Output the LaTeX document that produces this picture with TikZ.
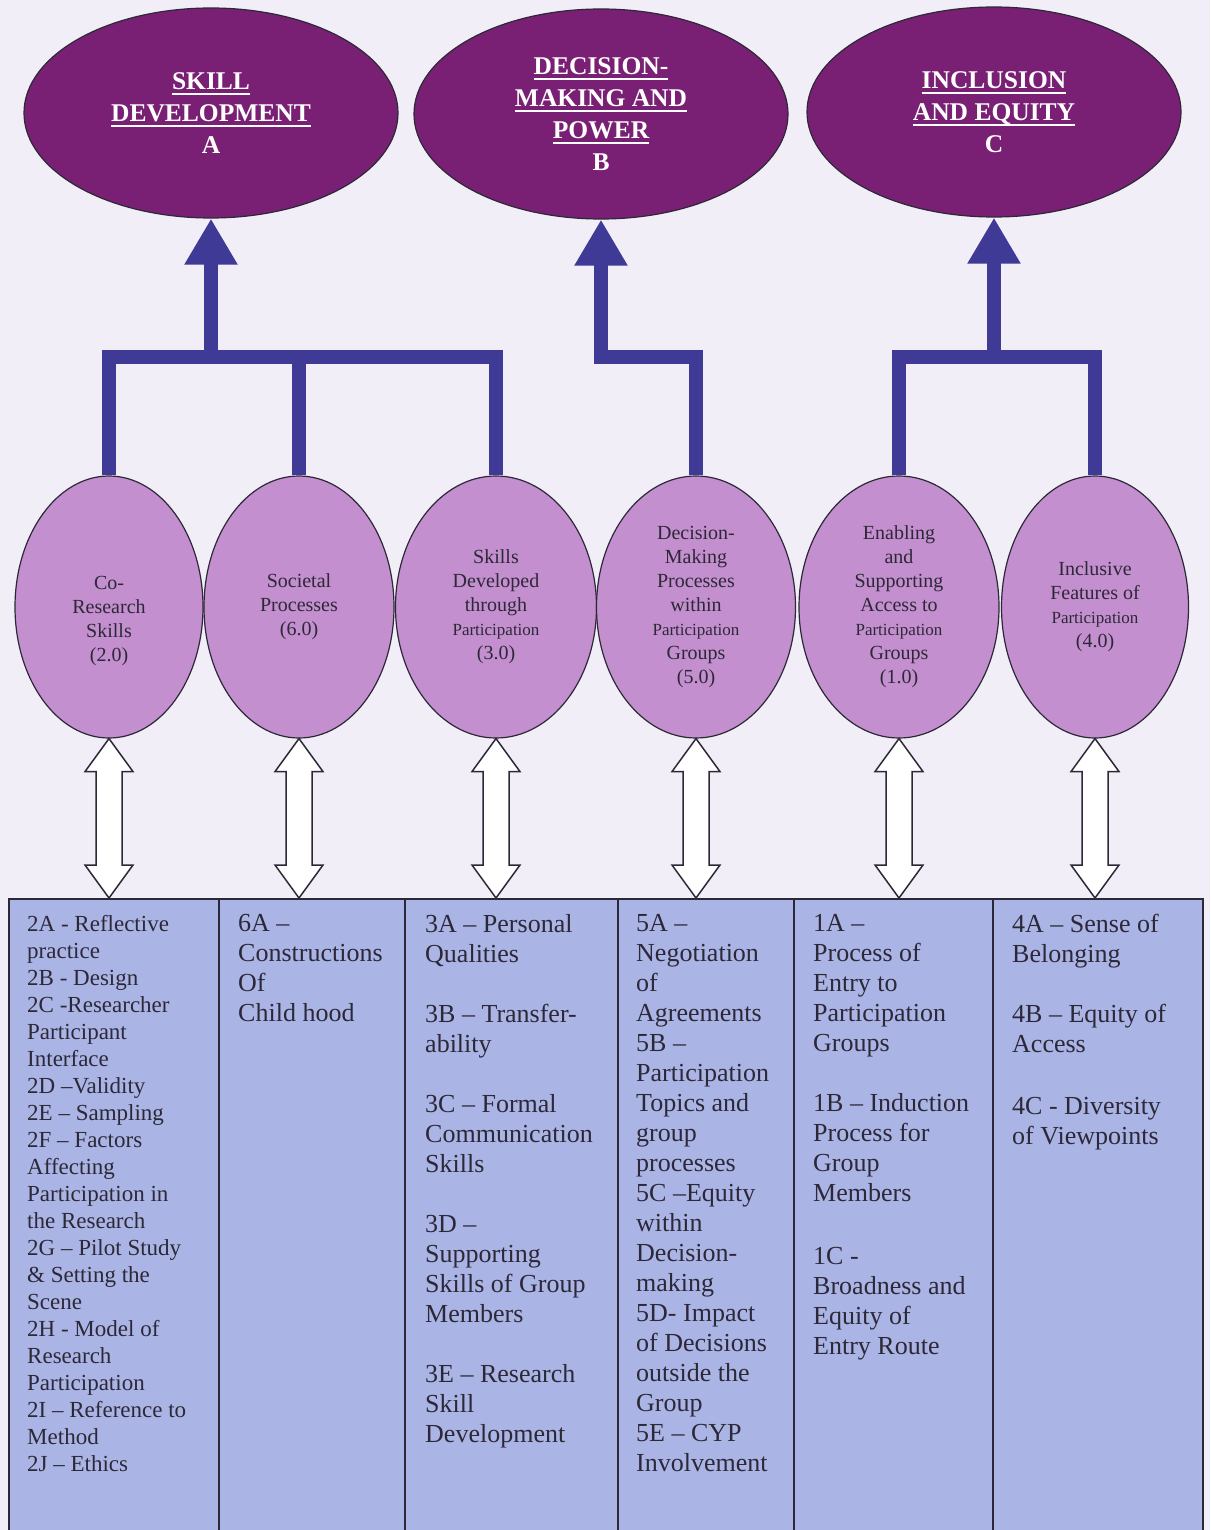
\documentclass[tikz,border=0pt]{standalone}
\usepackage{fontspec}
\setmainfont{Liberation Serif}
\usetikzlibrary{arrows.meta,shapes.geometric}
\definecolor{bgc}{RGB}{242,238,248}
\definecolor{topc}{RGB}{122,32,116}
\definecolor{midc}{RGB}{195,143,206}
\definecolor{barc}{RGB}{62,58,150}
\definecolor{cellc}{RGB}{170,181,230}
\definecolor{inkc}{RGB}{45,40,55}
\newcommand\ulx[1]{\leavevmode\setbox0\hbox{#1}\rlap{\rule[-5.5pt]{\wd0}{2pt}}\box0}
\newcommand\smallp{{\fontsize{17}{24}\selectfont Participation}}
\newcommand\dblarrow[2]{%
  \coordinate (tt) at (#1.south);
  \coordinate (bb) at (#2.north -| #1.south);
  \draw[dbl] (tt) -- ([shift={(24,33)}]tt) -- ([shift={(13,33)}]tt)
    -- ([shift={(13,-33)}]bb) -- ([shift={(24,-33)}]bb) -- (bb)
    -- ([shift={(-24,-33)}]bb) -- ([shift={(-13,-33)}]bb)
    -- ([shift={(-13,33)}]tt) -- ([shift={(-24,33)}]tt) -- cycle;}
\begin{document}
\begin{tikzpicture}[x=1pt,y=-1pt,
  topell/.style={ellipse, draw=inkc, line width=1.2pt, fill=topc, minimum width=374, minimum height=210, inner sep=0pt, text=white, align=center, font=\bfseries\fontsize{25.5}{32}\selectfont},
  midell/.style={ellipse, draw=inkc, line width=1.2pt, fill=midc, minimum height=262, inner sep=0pt, text=inkc, align=center, font=\fontsize{20}{24}\selectfont},
  bar/.style={draw=barc, line width=14pt, line join=miter},
  bigtip/.style={-{Triangle[width=50pt,length=46pt]}},
  dbl/.style={draw=inkc, fill=white, line width=1.5pt, line join=miter},
  cell/.style={rectangle, draw=inkc, line width=1.8pt, fill=cellc, minimum width=#1, minimum height=660, inner sep=0pt, anchor=north west},
  ct/.style={anchor=north west, align=left, inner sep=0pt, text=inkc, font=\fontsize{26}{30}\selectfont},
]
\useasboundingbox (0,0) rectangle (1210,1530);
\fill[bgc] (0,0) rectangle (1210,1530);

% top ellipses
\node[topell] (A) at (211,113) {\ulx{SKILL}\\\ulx{DEVELOPMENT}\\A};
\node[topell] (B) at (601,114) {\ulx{DECISION-}\\\ulx{MAKING AND}\\\ulx{POWER}\\B};
\node[topell] (C) at (994,112) {\ulx{INCLUSION}\\\ulx{AND EQUITY}\\C};

% middle ellipses
\node[midell, minimum width=188] (e1) at (109,607) {\strut\\Co-\\Research\\Skills\\(2.0)};
\node[midell, minimum width=190] (e2) at (299,607) {Societal\\Processes\\(6.0)};
\node[midell, minimum width=201] (e3) at (496,607) {Skills\\Developed\\through\\\smallp\\(3.0)};
\node[midell, minimum width=199] (e4) at (696,607) {Decision-\\Making\\Processes\\within\\\smallp\\Groups\\(5.0)};
\node[midell, minimum width=200] (e5) at (899,607) {Enabling\\and\\Supporting\\Access to\\\smallp\\Groups\\(1.0)};
\node[midell, minimum width=187] (e6) at (1095,607) {Inclusive\\Features of\\\smallp\\(4.0)};

% junctions
\coordinate (jA) at (211,357);
\coordinate (jB) at (601,357);
\coordinate (jC) at (994,357);

% bars and big arrows
\draw[bar,bigtip] (e1.north) |- (jA) -- (A.south);
\draw[bar] (e3.north) |- (jA);
\draw[bar] (e2.north) -- (e2.north |- jA);
\draw[bar,bigtip] (e4.north) |- (jB) -- (B.south);
\draw[bar,bigtip] (e5.north) |- (jC) -- (C.south);
\draw[bar] (e6.north) |- (jC);

% table cells
\node[cell=210] (c1) at (8,898) {};
\node[cell=186] (c2) at (218,898) {};
\node[cell=213] (c3) at (404,898) {};
\node[cell=176] (c4) at (617,898) {};
\node[cell=199] (c5) at (793,898) {};
\node[cell=210] (c6) at (992,898) {};

% double arrows
\dblarrow{e1}{c1}
\dblarrow{e2}{c2}
\dblarrow{e3}{c3}
\dblarrow{e4}{c4}
\dblarrow{e5}{c5}
\dblarrow{e6}{c6}

% cell texts
\node[ct, font=\fontsize{23}{27}\selectfont] (t1) at ([shift={(19,17)}]c1.north west)
 {2A - Reflective\\practice\\2B - Design\\2C -Researcher\\Participant\\Interface\\2D –Validity\\2E – Sampling\\2F – Factors\\Affecting\\Participation in\\the Research\\2G – Pilot Study\\\& Setting the\\Scene\\2H - Model of\\Research\\Participation\\2I – Reference to\\Method\\2J – Ethics};
\node[ct] (t2) at ([shift={(20,16)}]c2.north west)
 {6A –\\Constructions\\Of\\Child hood};
\node[ct] (t3) at ([shift={(21,16)}]c3.north west)
 {3A – Personal\\Qualities\\[30pt]3B – Transfer-\\ability\\[30pt]3C – Formal\\Communication\\Skills\\[30pt]3D –\\Supporting\\Skills of Group\\Members\\[30pt]3E – Research\\Skill\\Development};
\node[ct] (t4) at ([shift={(19,16)}]c4.north west)
 {5A –\\Negotiation\\of\\Agreements\\5B –\\Participation\\Topics and\\group\\processes\\5C –Equity\\within\\Decision-\\making\\5D- Impact\\of Decisions\\outside the\\Group\\5E – CYP\\Involvement};
\node[ct] (t5) at ([shift={(20,16)}]c5.north west)
 {1A –\\Process of\\Entry to\\Participation\\Groups\\[30pt]1B – Induction\\Process for\\Group\\Members\\[33pt]1C -\\Broadness and\\Equity of\\Entry Route};
\node[ct] (t6) at ([shift={(20,16)}]c6.north west)
 {4A – Sense of\\Belonging\\[30pt]4B – Equity of\\Access\\[32pt]4C - Diversity\\of Viewpoints};
\end{tikzpicture}
\end{document}
